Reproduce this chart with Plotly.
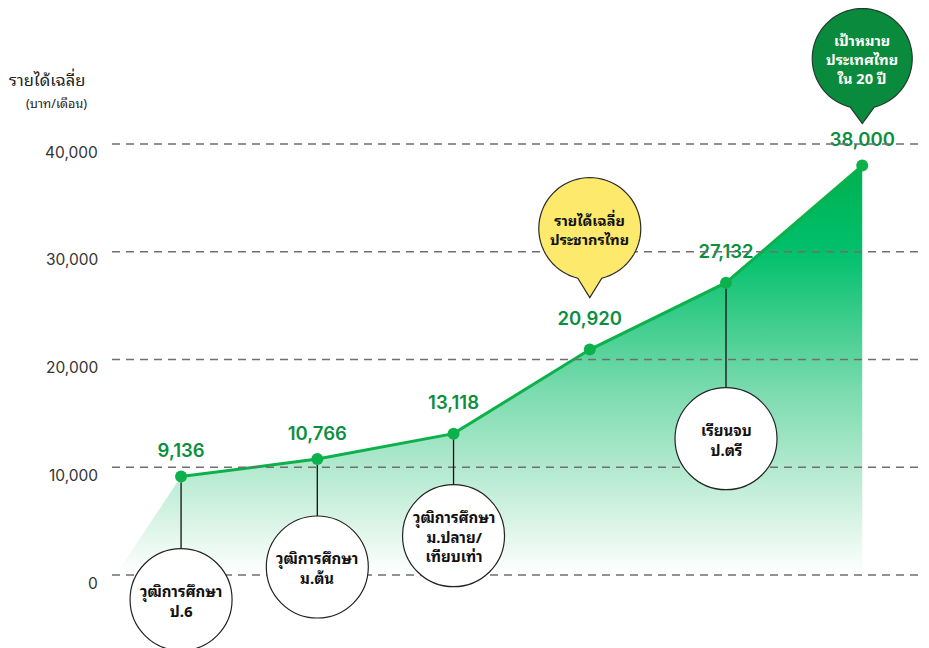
import math
import plotly.graph_objects as go

# ---------------- data ----------------
stages = ["ป.6", "ม.ต้น", "ม.ปลาย/เทียบเท่า", "เฉลี่ยประชากร", "ป.ตรี", "เป้าหมาย 20 ปี"]
income = [9136, 10766, 13118, 20920, 27132, 38000]
value_labels = ["9,136", "10,766", "13,118", "20,920", "27,132", "38,000"]
y_ticks = [0, 10000, 20000, 30000, 40000]
y_tick_labels = ["0", "10,000", "20,000", "30,000", "40,000"]
milestone_text = ["วุฒิการศึกษา<br>ป.6", "วุฒิการศึกษา<br>ม.ต้น",
                  "วุฒิการศึกษา<br>ม.ปลาย/<br>เทียบเท่า", None, "เรียนจบ<br>ป.ตรี", None]
bubble_text = {3: "รายได้เฉลี่ย<br>ประชากรไทย", 5: "เป้าหมาย<br>ประเทศไทย<br>ใน 20 ปี"}

# ---------------- style ----------------
FONT = "Noto Sans Thai Looped, Loma, Garuda, Noto Sans Thai, Noto Sans, sans-serif"
LINE_GREEN = "#0db14b"
LABEL_GREEN = "#0b8f3f"
GRID = "#6f6f6f"
circle_offset = [123, 108, 102, None, 156, None]   # px below point (circle centre)
label_pad = [22, 22, 31, 31, 31, 22]               # invisible marker sizes to lift labels
CR = 51
bubble_style = {3: dict(tip=52, h=69, r=51, fill="#fde96c", line="#2a2a2a", font="#111111"),
                5: dict(tip=42, h=65, r=50, fill="#0a8a3c", line="#1f3d2a", font="#ffffff")}

idx = list(range(len(income)))

fig = go.Figure()

# gradient area
fig.add_trace(go.Scatter(
    x=[-0.48] + idx + [idx[-1]], y=[0] + income + [0],
    mode="none", fill="toself",
    fillgradient=dict(type="vertical",
                      colorscale=[[0.0, "rgba(0,180,90,0.0)"],
                                  [0.45, "rgba(0,186,100,0.52)"],
                                  [0.79, "rgba(0,192,108,1)"],
                                  [1.0, "rgba(0,176,78,1)"]]),
    hoverinfo="skip", showlegend=False))

# line + markers
fig.add_trace(go.Scatter(
    x=idx, y=income, mode="lines+markers",
    line=dict(color=LINE_GREEN, width=3),
    marker=dict(color=LINE_GREEN, size=12),
    showlegend=False, hoverinfo="skip"))

# value labels
fig.add_trace(go.Scatter(
    x=idx, y=income, mode="markers+text",
    marker=dict(color="rgba(0,0,0,0)", size=label_pad, opacity=0, line=dict(width=0)),
    text=value_labels, textposition="top center",
    textfont=dict(family="Inter, Noto Sans, sans-serif", size=18.5, color=LABEL_GREEN, weight=600),
    showlegend=False, hoverinfo="skip"))

shapes = []
# dashed gridlines drawn above the area
for t in y_ticks:
    shapes.append(dict(type="line", xref="paper", x0=0, x1=1, yref="y", y0=t, y1=t,
                       line=dict(color=GRID, width=1.5, dash="8px,6px"), layer="above"))

annotations = []
for t, lab in zip(y_ticks, y_tick_labels):
    annotations.append(dict(xref="paper", yref="y", x=0, y=t, xanchor="right", yanchor="middle",
                            xshift=-12, yshift=-8, text=lab, showarrow=False,
                            font=dict(family="Inter, Noto Sans, sans-serif", size=15.5, color="#333333")))

for i, off in enumerate(circle_offset):
    if off is None:
        continue
    shapes.append(dict(type="line", xref="x", yref="y", xsizemode="pixel", ysizemode="pixel",
                       xanchor=i, yanchor=income[i], x0=0, x1=0, y0=-6, y1=-(off - CR),
                       line=dict(color="#111111", width=1.3), layer="above"))
    shapes.append(dict(type="circle", xref="x", yref="y", xsizemode="pixel", ysizemode="pixel",
                       xanchor=i, yanchor=income[i], x0=-CR, x1=CR, y0=-off - CR, y1=-off + CR,
                       fillcolor="white", line=dict(color="#222222", width=1.2), layer="above"))
    annotations.append(dict(x=i, y=income[i], xref="x", yref="y", yshift=-off,
                            text=milestone_text[i], showarrow=False,
                            font=dict(family=FONT, size=15, color="#111111", weight="bold"),
                            align="center"))

# speech bubbles
for i, st in bubble_style.items():
    tip, h, r = st["tip"], st["h"], st["r"]
    th = math.asin(12.0 / r)
    a0 = -math.pi / 2 + th
    a1 = 3 * math.pi / 2 - th
    n = 72
    pts = [(0, tip)]
    for k in range(n + 1):
        a = a0 + (a1 - a0) * k / n
        pts.append((r * math.cos(a), tip + h + r * math.sin(a)))
    path = "M " + " L ".join(f"{px:.2f},{py:.2f}" for px, py in pts) + " Z"
    shapes.append(dict(type="path", xref="x", yref="y", xsizemode="pixel", ysizemode="pixel",
                       xanchor=i, yanchor=income[i], path=path,
                       fillcolor=st["fill"], line=dict(color=st["line"], width=1.2), layer="above"))
    annotations.append(dict(x=i, y=income[i], xref="x", yref="y", yshift=tip + h,
                            text=bubble_text[i], showarrow=False,
                            font=dict(family=FONT, size=14.5, color=st["font"], weight="bold"),
                            align="center"))

# axis title
annotations.append(dict(xref="paper", yref="paper", x=-0.129, y=0.8906, xanchor="left", yanchor="middle",
                        text="รายได้เฉลี่ย", showarrow=False,
                        font=dict(family=FONT, size=16.5, color="#222222")))
annotations.append(dict(xref="paper", yref="paper", x=-0.108, y=0.853, xanchor="left", yanchor="middle",
                        text="(บาท/เดือน)", showarrow=False,
                        font=dict(family=FONT, size=12.5, color="#222222")))

fig.update_layout(
    width=921, height=640,
    margin=dict(l=104, r=0, t=0, b=0),
    paper_bgcolor="white", plot_bgcolor="white",
    shapes=shapes, annotations=annotations,
    xaxis=dict(range=[-0.507, 5.49], visible=False, fixedrange=True),
    yaxis=dict(range=[-6775, 52622], visible=False, fixedrange=True),
    font=dict(family=FONT),
)

fig.write_html("out.html")
